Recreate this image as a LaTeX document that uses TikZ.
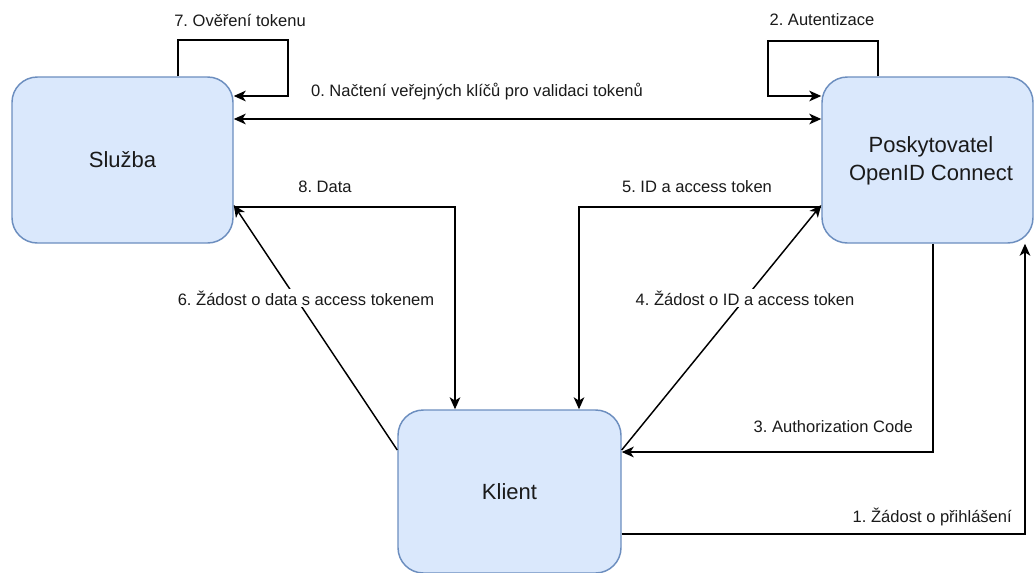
\documentclass[tikz,border=0pt]{standalone}
\usepackage{fontspec}
\setmainfont{Liberation Sans}
\usetikzlibrary{arrows.meta}
\definecolor{boxfill}{HTML}{DAE8FC}
\definecolor{boxdraw}{HTML}{6C8EBF}
\definecolor{txt}{HTML}{1A1A1A}
\frenchspacing
\begin{document}
\begin{tikzpicture}[x=0.75pt,y=-0.75pt,
  box/.style={draw=boxdraw,fill=boxfill,line width=1.1pt,rounded corners=19pt,
    align=center,font=\fontsize{16.5pt}{21pt}\selectfont,text=txt,inner sep=0pt},
  lbl/.style={fill=white,inner sep=1.5pt,font=\fontsize{12.4pt}{15pt}\selectfont,text=txt},
  arr/.style={draw=black,line width=1.1pt,-{Stealth[length=9pt,width=8pt,inset=2.5pt]}},
  arrtwo/.style={draw=black,line width=1.1pt,{Stealth[length=9pt,width=8pt,inset=2.5pt]}-{Stealth[length=9pt,width=8pt,inset=2.5pt]}}]
\useasboundingbox (0,0) rectangle (1035,572);
% boxes
\node[box,minimum width=165.75pt,minimum height=124.5pt] (s) at (122.5,160) {Služba};
\node[box,minimum width=158.25pt,minimum height=124.5pt] (p) at (927.5,160) {};
\node[align=center,font=\fontsize{16.5pt}{21pt}\selectfont,text=txt,inner sep=0pt] (pt) at (931,161) {Poskytovatel\\OpenID Connect};
\node[box,minimum width=167.25pt,minimum height=122.25pt] (k) at (509.5,491.5) {Klient};
% connectors
\draw[arr] ([shift={(55.5,0)}]s.north) |- (288,40) |- ([shift={(0,-64)}]s.east);
\draw[arr] ([shift={(-49.5,0)}]p.north) |- (768,41) |- ([shift={(0,-64)}]p.west);
\draw[arrtwo] ([shift={(0,-41)}]s.east) -- ([shift={(0,-41)}]p.west);
\draw[arr] ([shift={(0,47)}]s.east) -| ([shift={(-54.5,0)}]k.north);
\draw[arr] ([shift={(0,47)}]p.west) -| ([shift={(69.5,0)}]k.north);
\draw[arr] ([shift={(0,-41.5)}]k.west) -- ([shift={(0,45)}]s.east);
\draw[arr] ([shift={(0,-41.5)}]k.east) -- ([shift={(0,45)}]p.west);
\draw[arr] ([shift={(5.5,0)}]p.south) |- ([shift={(0,-39.5)}]k.east);
\draw[arr] ([shift={(0,42.5)}]k.east) -| ([shift={(97.5,0)}]p.south);
% labels
\node[lbl] (l7) at (240,20) {7. Ověření tokenu};
\node[lbl] (l2) at (822,20) {2. Autentizace};
\node[lbl] (l0) at (477,92) {0. Načtení veřejných klíčů pro validaci tokenů};
\node[lbl] (l8) at (325,187) {8. Data};
\node[lbl] (l5) at (697,187) {5. ID a access token};
\node[lbl] (l6) at (306,298) {6. Žádost o data s access tokenem};
\node[lbl] (l4) at (745,298) {4. Žádost o ID a access token};
\node[lbl,anchor=east] (l3) at (915,427) {3. Authorization Code};
\node[lbl,anchor=east] (l1) at (1014,517) {1. Žádost o přihlášení};
\end{tikzpicture}
\end{document}
